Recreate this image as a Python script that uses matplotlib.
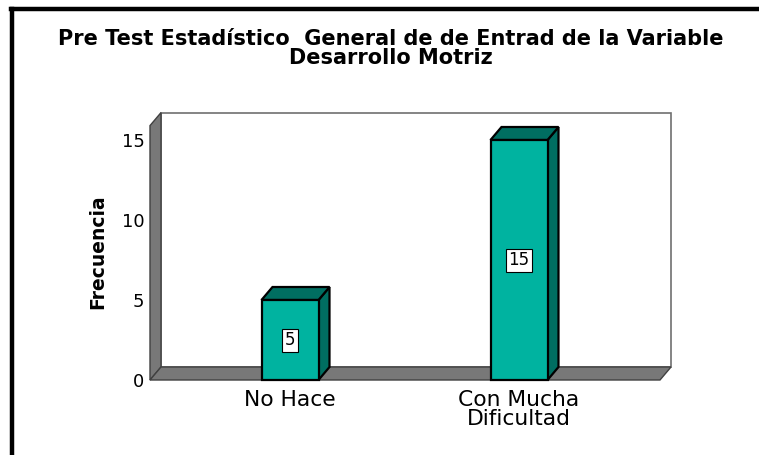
import matplotlib
matplotlib.use("Agg")
import matplotlib.pyplot as plt
from matplotlib.patches import Polygon, Rectangle
from matplotlib.lines import Line2D

# ---- data ----
categories = ["No Hace", "Con Mucha\nDificultad"]
values = [5, 15]
yticks = [0, 5, 10, 15]
title = "Pre Test Estadístico  General de de Entrad de la Variable\nDesarrollo Motriz"
ylabel = "Frecuencia"

# ---- layout (pixels) ----
W, H = 759, 455
DPI = 100
front_left, front_right = 150, 660
y_zero_px = 380
px_per_unit_y = 16.0
ymax = 15.9
px_per_unit_x = 229.0
first_center_px = 290
DX_PX, DY_PX = 11, 13
bar_w_px = 57

FRONT = "#00B3A0"
DARK = "#006E61"
GRAY = "#787878"
EDGE_GRAY = "#404040"

fig = plt.figure(figsize=(W / DPI, H / DPI), dpi=DPI)
fig.patch.set_facecolor("white")

ax_h_px = ymax * px_per_unit_y
ax = fig.add_axes([front_left / W, (H - y_zero_px) / H,
                   (front_right - front_left) / W, ax_h_px / H])
xmin = -(first_center_px - front_left) / px_per_unit_x
xmax = (front_right - first_center_px) / px_per_unit_x
ax.set_xlim(xmin, xmax)
ax.set_ylim(0, ymax)
for s in ax.spines.values():
    s.set_visible(False)
ax.patch.set_visible(False)

ddx = DX_PX / px_per_unit_x
ddy = DY_PX / px_per_unit_y
bw = bar_w_px / px_per_unit_x

# back wall
ax.add_patch(Rectangle((xmin + ddx, ddy), xmax - xmin, ymax, facecolor="white",
                       edgecolor="#707070", lw=1.2, clip_on=False, zorder=1))
# left wall
ax.add_patch(Polygon([(xmin, 0), (xmin + ddx, ddy), (xmin + ddx, ymax + ddy), (xmin, ymax)],
                     closed=True, facecolor=GRAY, edgecolor=EDGE_GRAY, lw=1.0,
                     clip_on=False, zorder=2))
# floor
ax.add_patch(Polygon([(xmin, 0), (xmax, 0), (xmax + ddx, ddy), (xmin + ddx, ddy)],
                     closed=True, facecolor=GRAY, edgecolor=EDGE_GRAY, lw=1.0,
                     clip_on=False, zorder=2))

xs = list(range(len(categories)))
for x, v in zip(xs, values):
    l, r = x - bw / 2, x + bw / 2
    ax.add_patch(Polygon([(r, 0), (r + ddx, ddy), (r + ddx, v + ddy), (r, v)], closed=True,
                         facecolor=DARK, edgecolor="black", lw=1.6, clip_on=False, zorder=3))
    ax.add_patch(Polygon([(l, v), (r, v), (r + ddx, v + ddy), (l + ddx, v + ddy)], closed=True,
                         facecolor=DARK, edgecolor="black", lw=1.6, clip_on=False, zorder=3))
    ax.add_patch(Rectangle((l, 0), bw, v, facecolor=FRONT, edgecolor="black", lw=1.6,
                           clip_on=False, zorder=4))
    ax.text(x, v / 2, str(v), ha="center", va="center", fontsize=12, zorder=5,
            bbox=dict(boxstyle="square,pad=0.15", facecolor="white", edgecolor="black", lw=0.8))

ax.set_yticks(yticks)
ax.set_yticklabels([str(t) for t in yticks], fontsize=13)
ax.set_xticks(xs)
ax.set_xticklabels(categories, fontsize=15.7, linespacing=0.95)
ax.tick_params(axis="both", length=0)
ax.tick_params(axis="y", pad=4)
ax.tick_params(axis="x", pad=7)

fig.text(391 / W, 1 - 29 / H, title, ha="center", va="top", fontsize=15,
         fontweight="bold", linespacing=0.92)
fig.text(98 / W, 1 - 252 / H, ylabel, rotation=90, ha="center", va="center",
         fontsize=13.5, fontweight="bold")

# outer frame
fig.add_artist(Line2D([12 / W, 12 / W], [0, 1 - 9 / H], transform=fig.transFigure,
                      color="black", lw=3.2))
fig.add_artist(Line2D([10.5 / W, 1], [1 - 9 / H, 1 - 9 / H], transform=fig.transFigure,
                      color="black", lw=3.2))

fig.savefig("out.png", dpi=DPI)
